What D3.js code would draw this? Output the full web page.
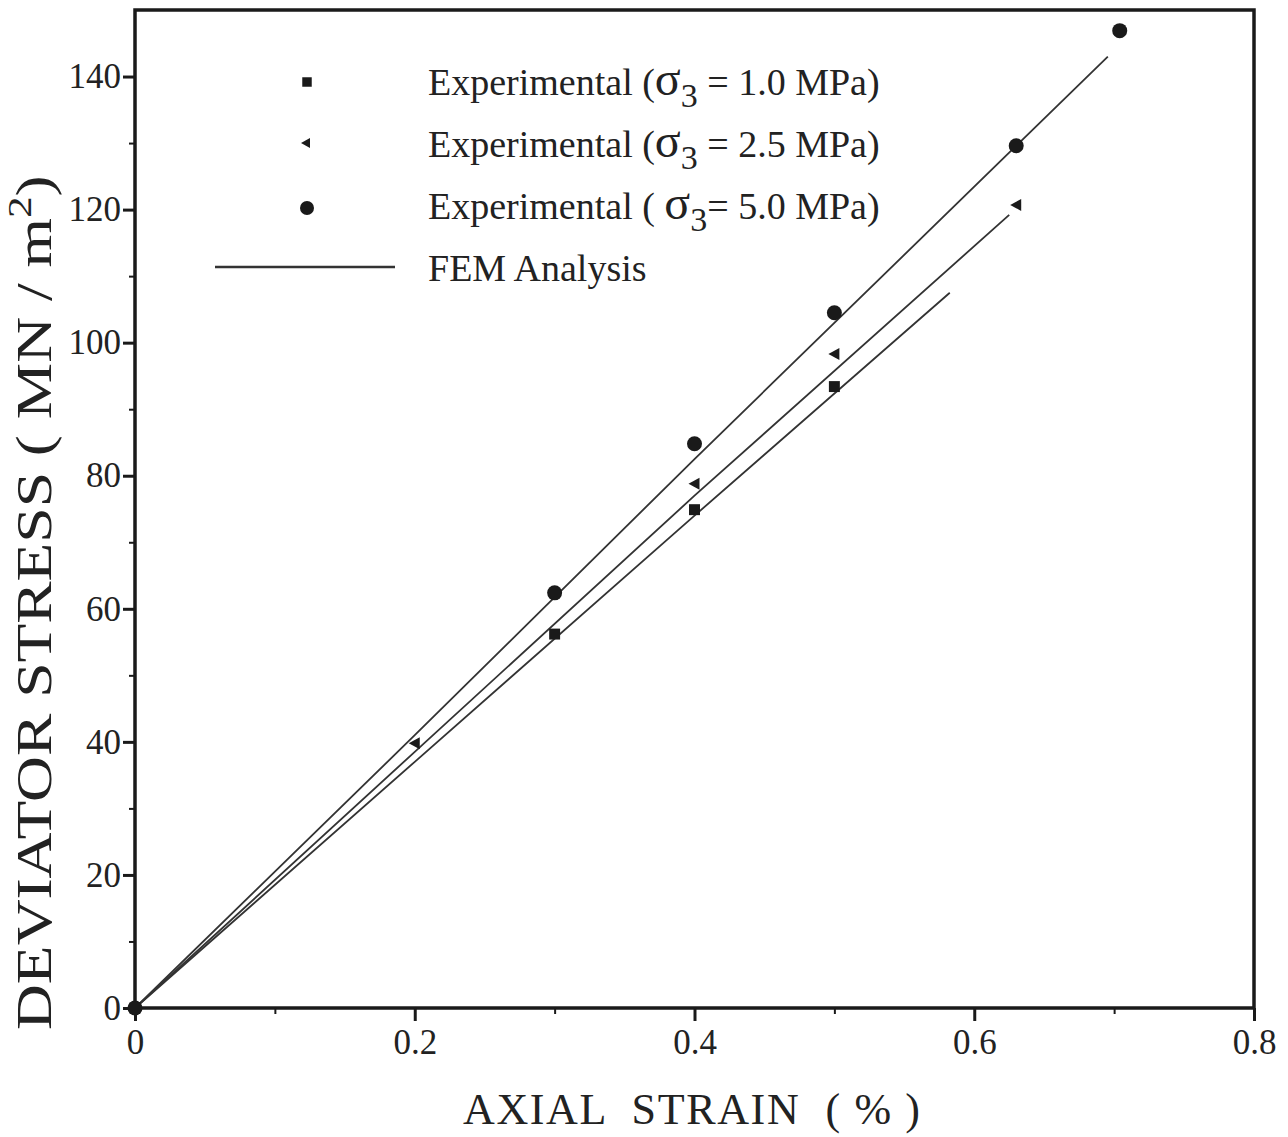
<!DOCTYPE html>
<html><head><meta charset="utf-8">
<script src="https://cdn.jsdelivr.net/npm/d3@7"></script>
<style>
body{margin:0;background:#fff;}
text{font-family:"Liberation Serif","Times New Roman",serif;fill:#222;}
</style></head>
<body><svg id="c" width="1288" height="1137"></svg>
<script>
// ---- data ----
const xTicks = [0, 0.2, 0.4, 0.6, 0.8];
const xTickLabels = ["0", "0.2", "0.4", "0.6", "0.8"];
const yTicks = [0, 20, 40, 60, 80, 100, 120, 140];
const yTickLabels = ["0", "20", "40", "60", "80", "100", "120", "140"];
const xMinor = [0.1, 0.3, 0.5, 0.7];
const yMinor = [10, 30, 50, 70, 90, 110, 130];

const exp1Strain = [0, 0.3, 0.4, 0.5];
const exp1Stress = [0, 56.2, 74.9, 93.4];
const exp2Strain = [0, 0.2, 0.4, 0.5, 0.63];
const exp2Stress = [0, 39.8, 78.8, 98.3, 120.7];
const exp3Strain = [0, 0.3, 0.4, 0.5, 0.63, 0.704];
const exp3Stress = [0, 62.4, 84.8, 104.5, 129.6, 146.9];

const fem1Strain = [0, 0.2, 0.4, 0.5825];
const fem1Stress = [0, 37, 74, 107.5];
const fem2Strain = [0, 0.2, 0.4, 0.625];
const fem2Stress = [0, 38.5, 77, 119.2];
const fem3Strain = [0, 0.2, 0.4, 0.6955];
const fem3Stress = [0, 41, 82.5, 143.0];

const legendLabels = ["1.0 MPa)", "2.5 MPa)", "5.0 MPa)"];
const legendLine = "FEM Analysis";
const xTitle = "AXIAL  STRAIN  ( % )";
const yTitle = "DEVIATOR STRESS ( MN / m";

// ---- layout ----
const L = 135, R = 1254, T = 10, B = 1008;
const svg = d3.select("#c");
const x = d3.scaleLinear().domain([0, 0.8]).range([L, R]);
const y = d3.scaleLinear().domain([0, 150]).range([B, T]);
const ink = "#1a1a1a";

// frame
svg.append("rect").attr("x", L).attr("y", T).attr("width", R - L).attr("height", B - T)
  .attr("fill", "none").attr("stroke", ink).attr("stroke-width", 3.5);

// axes
const xAx = svg.append("g").attr("transform", `translate(0,${B})`)
  .call(d3.axisBottom(x).tickValues(xTicks).tickSize(13).tickPadding(8)
    .tickFormat((d, i) => xTickLabels[i]));
xAx.select(".domain").remove();
xAx.selectAll("line").attr("stroke", ink).attr("stroke-width", 3);
xAx.selectAll("text").attr("font-size", 35).attr("font-family", "Liberation Serif").attr("fill", "#222");

const xAxm = svg.append("g").attr("transform", `translate(0,${B})`)
  .call(d3.axisBottom(x).tickValues(xMinor).tickSize(6).tickFormat(""));
xAxm.select(".domain").remove();
xAxm.selectAll("line").attr("stroke", ink).attr("stroke-width", 2);

const yAx = svg.append("g").attr("transform", `translate(${L},0)`)
  .call(d3.axisLeft(y).tickValues(yTicks).tickSize(12).tickPadding(2)
    .tickFormat((d, i) => yTickLabels[i]));
yAx.select(".domain").remove();
yAx.selectAll("line").attr("stroke", ink).attr("stroke-width", 3);
yAx.selectAll("text").attr("font-size", 35).attr("font-family", "Liberation Serif").attr("fill", "#222");

const yAxm = svg.append("g").attr("transform", `translate(${L},0)`)
  .call(d3.axisLeft(y).tickValues(yMinor).tickSize(6).tickFormat(""));
yAxm.select(".domain").remove();
yAxm.selectAll("line").attr("stroke", ink).attr("stroke-width", 2);

// FEM lines
const line = d3.line().x(d => x(d[0])).y(d => y(d[1]));
[[fem1Strain, fem1Stress], [fem2Strain, fem2Stress], [fem3Strain, fem3Stress]].forEach(([xs, ys]) => {
  svg.append("path").datum(xs.map((v, i) => [v, ys[i]]))
    .attr("d", line).attr("fill", "none").attr("stroke", "#333").attr("stroke-width", 1.8);
});

// markers
const sq = d3.symbol().type(d3.symbolSquare).size(120);
svg.append("g").selectAll("path").data(exp1Strain.map((v, i) => [v, exp1Stress[i]])).join("path")
  .attr("d", sq).attr("transform", d => `translate(${x(d[0])},${y(d[1])})`).attr("fill", ink);

const tri = "M-6,0 L5,-6 L5,6 Z";
svg.append("g").selectAll("path").data(exp2Strain.map((v, i) => [v, exp2Stress[i]])).join("path")
  .attr("d", tri).attr("transform", d => `translate(${x(d[0])},${y(d[1])})`).attr("fill", ink);

svg.append("g").selectAll("circle").data(exp3Strain.map((v, i) => [v, exp3Stress[i]])).join("circle")
  .attr("cx", d => x(d[0])).attr("cy", d => y(d[1])).attr("r", 7.5).attr("fill", ink);

// legend
const lg = svg.append("g");
lg.append("path").attr("d", d3.symbol().type(d3.symbolSquare).size(90)).attr("transform", "translate(307,82)").attr("fill", ink);
lg.append("path").attr("d", "M-5,0 L4,-5 L4,5 Z").attr("transform", "translate(306,143)").attr("fill", ink);
lg.append("circle").attr("cx", 307).attr("cy", 208).attr("r", 7).attr("fill", ink);
lg.append("line").attr("x1", 215).attr("x2", 395).attr("y1", 267).attr("y2", 267).attr("stroke", "#333").attr("stroke-width", 2.5);

const lyBase = [95, 157, 219];
legendLabels.forEach((lab, i) => {
  const t = lg.append("text").attr("x", 428).attr("y", lyBase[i]).attr("font-size", 38);
  t.append("tspan").text("Experimental (" + (i === 2 ? " " : ""));
  t.append("tspan").text("σ").attr("font-size", 48);
  t.append("tspan").text("3").attr("dy", 12).attr("font-size", 34);
  t.append("tspan").text(i === 2 ? "= " + lab : " = " + lab).attr("dy", -12);
});
lg.append("text").attr("x", 428).attr("y", 281).attr("font-size", 38).text(legendLine);

// axis titles
svg.append("text").attr("x", 463).attr("y", 1124).attr("font-size", 44)
  .attr("textLength", 457).attr("lengthAdjust", "spacing")
  .attr("xml:space", "preserve").style("white-space", "pre").text(xTitle);

const yt = svg.append("text").attr("transform", "translate(51,1030) rotate(-90) scale(1.27,1)")
  .attr("font-size", 50);
yt.append("tspan").text(yTitle);
yt.append("tspan").text("2").attr("dy", -20).attr("font-size", 34);
yt.append("tspan").text(")").attr("dy", 20);
</script></body></html>
